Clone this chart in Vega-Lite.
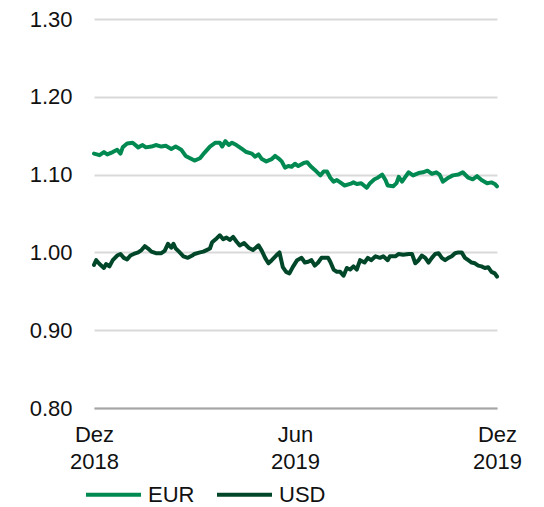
{
  "$schema": "https://vega.github.io/schema/vega-lite/v6.json",
  "autosize": {"type": "none"},
  "width": 403,
  "height": 389,
  "padding": {"left": 94, "top": 19, "right": 47, "bottom": 99},
  "background": "white",
  "config": {
    "font": "Liberation Sans",
    "view": {"stroke": null}
  },
  "datasets": {
    "eur": [
      {"date": "2018-12-01", "v": 1.127}, {"date": "2018-12-06", "v": 1.125}, {"date": "2018-12-10", "v": 1.129},
      {"date": "2018-12-13", "v": 1.126}, {"date": "2018-12-18", "v": 1.129}, {"date": "2018-12-22", "v": 1.132},
      {"date": "2018-12-25", "v": 1.127}, {"date": "2018-12-27", "v": 1.135}, {"date": "2018-12-31", "v": 1.140},
      {"date": "2019-01-05", "v": 1.141}, {"date": "2019-01-10", "v": 1.135}, {"date": "2019-01-14", "v": 1.138},
      {"date": "2019-01-17", "v": 1.135}, {"date": "2019-01-22", "v": 1.136}, {"date": "2019-01-26", "v": 1.138},
      {"date": "2019-01-31", "v": 1.136}, {"date": "2019-02-04", "v": 1.137}, {"date": "2019-02-09", "v": 1.133},
      {"date": "2019-02-13", "v": 1.136}, {"date": "2019-02-18", "v": 1.132}, {"date": "2019-02-22", "v": 1.124},
      {"date": "2019-02-26", "v": 1.121}, {"date": "2019-03-02", "v": 1.118}, {"date": "2019-03-07", "v": 1.121},
      {"date": "2019-03-11", "v": 1.128}, {"date": "2019-03-16", "v": 1.136}, {"date": "2019-03-21", "v": 1.141},
      {"date": "2019-03-25", "v": 1.141}, {"date": "2019-03-27", "v": 1.136}, {"date": "2019-03-30", "v": 1.143},
      {"date": "2019-04-02", "v": 1.138}, {"date": "2019-04-05", "v": 1.141}, {"date": "2019-04-09", "v": 1.138},
      {"date": "2019-04-14", "v": 1.133}, {"date": "2019-04-18", "v": 1.129}, {"date": "2019-04-23", "v": 1.127},
      {"date": "2019-04-26", "v": 1.123}, {"date": "2019-04-29", "v": 1.126}, {"date": "2019-05-02", "v": 1.120},
      {"date": "2019-05-06", "v": 1.117}, {"date": "2019-05-11", "v": 1.120}, {"date": "2019-05-14", "v": 1.124},
      {"date": "2019-05-17", "v": 1.121}, {"date": "2019-05-20", "v": 1.117}, {"date": "2019-05-23", "v": 1.109},
      {"date": "2019-05-26", "v": 1.111}, {"date": "2019-05-29", "v": 1.110}, {"date": "2019-06-01", "v": 1.114},
      {"date": "2019-06-04", "v": 1.111}, {"date": "2019-06-09", "v": 1.115}, {"date": "2019-06-12", "v": 1.116},
      {"date": "2019-06-15", "v": 1.111}, {"date": "2019-06-19", "v": 1.106}, {"date": "2019-06-24", "v": 1.099},
      {"date": "2019-06-27", "v": 1.104}, {"date": "2019-06-30", "v": 1.104}, {"date": "2019-07-03", "v": 1.096},
      {"date": "2019-07-06", "v": 1.091}, {"date": "2019-07-09", "v": 1.093}, {"date": "2019-07-12", "v": 1.090},
      {"date": "2019-07-16", "v": 1.086}, {"date": "2019-07-21", "v": 1.088}, {"date": "2019-07-24", "v": 1.090},
      {"date": "2019-07-27", "v": 1.088}, {"date": "2019-07-31", "v": 1.089}, {"date": "2019-08-05", "v": 1.083},
      {"date": "2019-08-08", "v": 1.089}, {"date": "2019-08-12", "v": 1.094}, {"date": "2019-08-15", "v": 1.096},
      {"date": "2019-08-19", "v": 1.100}, {"date": "2019-08-22", "v": 1.093}, {"date": "2019-08-24", "v": 1.086},
      {"date": "2019-08-29", "v": 1.085}, {"date": "2019-09-01", "v": 1.089}, {"date": "2019-09-03", "v": 1.097},
      {"date": "2019-09-06", "v": 1.091}, {"date": "2019-09-09", "v": 1.097}, {"date": "2019-09-12", "v": 1.103},
      {"date": "2019-09-16", "v": 1.099}, {"date": "2019-09-21", "v": 1.102}, {"date": "2019-09-25", "v": 1.103},
      {"date": "2019-09-29", "v": 1.105}, {"date": "2019-10-03", "v": 1.101}, {"date": "2019-10-07", "v": 1.103},
      {"date": "2019-10-10", "v": 1.100}, {"date": "2019-10-13", "v": 1.091}, {"date": "2019-10-18", "v": 1.096},
      {"date": "2019-10-22", "v": 1.099}, {"date": "2019-10-27", "v": 1.100}, {"date": "2019-10-31", "v": 1.103},
      {"date": "2019-11-05", "v": 1.096}, {"date": "2019-11-09", "v": 1.094}, {"date": "2019-11-13", "v": 1.098},
      {"date": "2019-11-17", "v": 1.093}, {"date": "2019-11-22", "v": 1.089}, {"date": "2019-11-26", "v": 1.090},
      {"date": "2019-11-29", "v": 1.088}, {"date": "2019-12-01", "v": 1.085}
    ],
    "usd": [
      {"date": "2018-12-01", "v": 0.984}, {"date": "2018-12-03", "v": 0.990}, {"date": "2018-12-06", "v": 0.985},
      {"date": "2018-12-10", "v": 0.980}, {"date": "2018-12-12", "v": 0.985}, {"date": "2018-12-15", "v": 0.982},
      {"date": "2018-12-18", "v": 0.990}, {"date": "2018-12-22", "v": 0.996}, {"date": "2018-12-25", "v": 0.998},
      {"date": "2018-12-28", "v": 0.993}, {"date": "2018-12-31", "v": 0.991}, {"date": "2019-01-03", "v": 0.996},
      {"date": "2019-01-06", "v": 0.998}, {"date": "2019-01-10", "v": 1.000}, {"date": "2019-01-13", "v": 1.003},
      {"date": "2019-01-16", "v": 1.008}, {"date": "2019-01-19", "v": 1.005}, {"date": "2019-01-22", "v": 1.001},
      {"date": "2019-01-26", "v": 0.999}, {"date": "2019-01-31", "v": 0.999}, {"date": "2019-02-03", "v": 1.002},
      {"date": "2019-02-06", "v": 1.011}, {"date": "2019-02-09", "v": 1.006}, {"date": "2019-02-11", "v": 1.011},
      {"date": "2019-02-13", "v": 1.005}, {"date": "2019-02-16", "v": 1.001}, {"date": "2019-02-20", "v": 0.995},
      {"date": "2019-02-24", "v": 0.993}, {"date": "2019-02-28", "v": 0.996}, {"date": "2019-03-02", "v": 0.998},
      {"date": "2019-03-07", "v": 1.000}, {"date": "2019-03-10", "v": 1.001}, {"date": "2019-03-13", "v": 1.003},
      {"date": "2019-03-16", "v": 1.005}, {"date": "2019-03-18", "v": 1.013}, {"date": "2019-03-22", "v": 1.018},
      {"date": "2019-03-25", "v": 1.022}, {"date": "2019-03-28", "v": 1.017}, {"date": "2019-03-31", "v": 1.019},
      {"date": "2019-04-03", "v": 1.016}, {"date": "2019-04-06", "v": 1.020}, {"date": "2019-04-09", "v": 1.014},
      {"date": "2019-04-12", "v": 1.009}, {"date": "2019-04-16", "v": 1.012}, {"date": "2019-04-20", "v": 1.006},
      {"date": "2019-04-24", "v": 1.003}, {"date": "2019-04-29", "v": 1.009}, {"date": "2019-05-02", "v": 1.002},
      {"date": "2019-05-05", "v": 0.993}, {"date": "2019-05-08", "v": 0.986}, {"date": "2019-05-11", "v": 0.990},
      {"date": "2019-05-15", "v": 0.996}, {"date": "2019-05-18", "v": 1.000}, {"date": "2019-05-21", "v": 0.981},
      {"date": "2019-05-24", "v": 0.975}, {"date": "2019-05-27", "v": 0.973}, {"date": "2019-05-30", "v": 0.981},
      {"date": "2019-06-03", "v": 0.990}, {"date": "2019-06-07", "v": 0.993}, {"date": "2019-06-10", "v": 0.987},
      {"date": "2019-06-13", "v": 0.988}, {"date": "2019-06-16", "v": 0.990}, {"date": "2019-06-19", "v": 0.983},
      {"date": "2019-06-22", "v": 0.987}, {"date": "2019-06-25", "v": 0.993}, {"date": "2019-06-28", "v": 0.993},
      {"date": "2019-07-01", "v": 0.993}, {"date": "2019-07-03", "v": 0.988}, {"date": "2019-07-06", "v": 0.978},
      {"date": "2019-07-09", "v": 0.975}, {"date": "2019-07-12", "v": 0.975}, {"date": "2019-07-15", "v": 0.970},
      {"date": "2019-07-18", "v": 0.980}, {"date": "2019-07-21", "v": 0.978}, {"date": "2019-07-24", "v": 0.982},
      {"date": "2019-07-27", "v": 0.978}, {"date": "2019-07-30", "v": 0.990}, {"date": "2019-08-03", "v": 0.987},
      {"date": "2019-08-06", "v": 0.993}, {"date": "2019-08-09", "v": 0.990}, {"date": "2019-08-13", "v": 0.995},
      {"date": "2019-08-17", "v": 0.993}, {"date": "2019-08-20", "v": 0.995}, {"date": "2019-08-24", "v": 0.990},
      {"date": "2019-08-26", "v": 0.995}, {"date": "2019-08-31", "v": 0.995}, {"date": "2019-09-03", "v": 0.998},
      {"date": "2019-09-07", "v": 0.997}, {"date": "2019-09-12", "v": 0.998}, {"date": "2019-09-15", "v": 0.998},
      {"date": "2019-09-18", "v": 0.986}, {"date": "2019-09-21", "v": 0.990}, {"date": "2019-09-24", "v": 0.996},
      {"date": "2019-09-27", "v": 0.993}, {"date": "2019-09-30", "v": 0.987}, {"date": "2019-10-03", "v": 0.993},
      {"date": "2019-10-06", "v": 0.998}, {"date": "2019-10-09", "v": 0.999}, {"date": "2019-10-12", "v": 0.993},
      {"date": "2019-10-15", "v": 0.990}, {"date": "2019-10-18", "v": 0.993}, {"date": "2019-10-21", "v": 0.995},
      {"date": "2019-10-24", "v": 0.999}, {"date": "2019-10-27", "v": 1.000}, {"date": "2019-10-30", "v": 1.000},
      {"date": "2019-11-02", "v": 0.993}, {"date": "2019-11-05", "v": 0.990}, {"date": "2019-11-08", "v": 0.987},
      {"date": "2019-11-11", "v": 0.986}, {"date": "2019-11-14", "v": 0.983}, {"date": "2019-11-17", "v": 0.982},
      {"date": "2019-11-20", "v": 0.980}, {"date": "2019-11-23", "v": 0.981}, {"date": "2019-11-26", "v": 0.975},
      {"date": "2019-11-29", "v": 0.973}, {"date": "2019-12-01", "v": 0.969}
    ]
  },
  "layer": [
    {
      "data": {"name": "eur"},
      "transform": [{"calculate": "'EUR'", "as": "series"}],
      "mark": {"type": "line", "strokeWidth": 4, "strokeJoin": "round", "strokeCap": "round"},
      "encoding": {}
    },
    {
      "data": {"name": "usd"},
      "transform": [{"calculate": "'USD'", "as": "series"}],
      "mark": {"type": "line", "strokeWidth": 4, "strokeJoin": "round", "strokeCap": "round"},
      "encoding": {}
    }
  ],
  "encoding": {
    "x": {
      "field": "date",
      "type": "temporal",
      "scale": {"type": "utc", "domain": [{"year": 2018, "month": 12, "date": 1, "utc": true}, {"year": 2019, "month": 12, "date": 1, "utc": true}]},
      "axis": {
        "title": null,
        "values": [{"year": 2018, "month": 12, "date": 1, "utc": true}, {"year": 2019, "month": 6, "date": 1, "utc": true}, {"year": 2019, "month": 12, "date": 1, "utc": true}],
        "labelExpr": "[utcmonth(datum.value) == 11 ? 'Dez' : 'Jun', utcFormat(datum.value, '%Y')]",
        "labelFontSize": 22,
        "labelColor": "#111111",
        "labelLineHeight": 27,
        "labelPadding": 16,
        "labelOverlap": false,
        "labelBound": false,
        "labelFlush": false,
        "labelAlign": "center",
        "ticks": false,
        "grid": false,
        "domain": true,
        "domainColor": "#a6a6a6",
        "domainWidth": 2
      }
    },
    "y": {
      "field": "v",
      "type": "quantitative",
      "scale": {"domain": [0.8, 1.3], "zero": false, "nice": false},
      "axis": {
        "title": null,
        "values": [0.8, 0.9, 1.0, 1.1, 1.2, 1.3],
        "format": ".2f",
        "labelFontSize": 22,
        "labelColor": "#111111",
        "labelPadding": 22,
        "ticks": false,
        "domain": false,
        "grid": true,
        "gridColor": "#d9d9d9",
        "gridWidth": 2
      }
    },
    "color": {
      "field": "series",
      "type": "nominal",
      "scale": {"domain": ["EUR", "USD"], "range": ["#008a52", "#00472a"]},
      "legend": {
        "title": null,
        "orient": "none",
        "legendX": -10,
        "legendY": 446,
        "direction": "horizontal",
        "symbolType": "stroke",
        "symbolSize": 3025,
        "symbolStrokeWidth": 4,
        "labelFontSize": 22,
        "labelColor": "#111111",
        "labelOffset": 5,
        "columnPadding": 14
      }
    }
  }
}
